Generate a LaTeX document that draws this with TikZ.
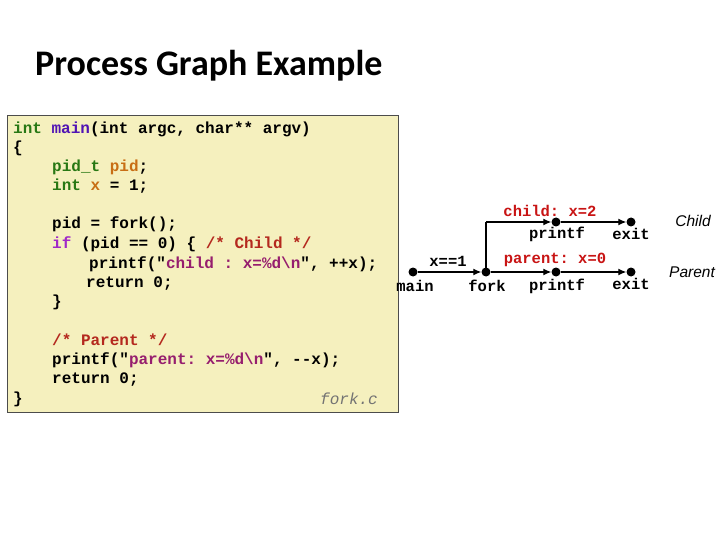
\documentclass[tikz,border=0pt]{standalone}
\usepackage{fontspec}
\setmainfont{Carlito}
\setmonofont{Liberation Mono}
\newfontfamily\arialf{Liberation Sans}
\usetikzlibrary{arrows.meta}
\definecolor{kw}{RGB}{40,120,20}
\definecolor{fn}{RGB}{80,20,180}
\definecolor{var}{RGB}{200,110,20}
\definecolor{ifc}{RGB}{160,40,200}
\definecolor{cmt}{RGB}{180,40,30}
\definecolor{str}{RGB}{150,30,110}
\definecolor{lbl}{RGB}{200,20,20}
\definecolor{boxbg}{RGB}{245,240,190}
\begin{document}
\begin{tikzpicture}[x=1pt,y=-1pt,
  code/.style={anchor=base west,inner sep=0pt,font=\ttfamily\bfseries\fontsize{16}{18}\selectfont},
  gl/.style={inner sep=0pt,font=\ttfamily\bfseries\fontsize{15.5}{18}\selectfont},
  dot/.style={circle,fill=black,inner sep=0pt,minimum size=9pt},
  arr/.style={line width=1.3pt,-{Latex[length=8pt,width=7pt]}},
  side/.style={inner sep=0pt,font=\arialf\itshape\fontsize{15.5}{18}\selectfont}]
\useasboundingbox (0,0) rectangle (720,540);
\node[inner sep=0pt,anchor=base west,font=\bfseries\fontsize{36}{40}\selectfont] (title) at (35,76) {Process Graph Example};
\node[draw=black!70,fill=boxbg,line width=0.6pt,minimum width=391pt,minimum height=297pt,anchor=north west,inner sep=0pt] (box) at (7,115) {};
\node[code] (l1) at (13,134) {\textcolor{kw}{int} \textcolor{fn}{main}(int argc, char** argv)};
\node[code] (l2) at (13,153) {\{};
\node[code] (l3) at (52,172) {\textcolor{kw}{pid\_t} \textcolor{var}{pid};};
\node[code] (l4) at (52,191) {\textcolor{kw}{int} \textcolor{var}{x} = 1;};
\node[code] (l5) at (52,229) {pid = fork();};
\node[code] (l6) at (52,248) {\textcolor{ifc}{if} (pid == 0) \{  \textcolor{cmt}{/* Child */}};
\node[code] (l7) at (89,268) {printf("\textcolor{str}{child : x=\%d\textbackslash n}", ++x);};
\node[code] (l8) at (86,287) {return 0;};
\node[code] (l9) at (52,306) {\}};
\node[code] (l10) at (52,345) {\textcolor{cmt}{/* Parent */}};
\node[code] (l11) at (52,364) {printf("\textcolor{str}{parent: x=\%d\textbackslash n}", --x);};
\node[code] (l12) at (52,383) {return 0;};
\node[code] (l13) at (13,403) {\}};
\node[code,font=\ttfamily\itshape\fontsize{16}{18}\selectfont,text=black!55] (fc) at (320,404) {fork.c};
% graph
\node[dot] (main) at (413,272) {};
\node[dot] (fork) at (486,272) {};
\node[dot] (pp) at (556,272) {};
\node[dot] (pe) at (631,272) {};
\node[dot] (cp) at (556,222) {};
\node[dot] (ce) at (631,222) {};
\coordinate (corner) at (486,222);
\draw[arr] (main) -- (fork);
\draw[arr] (fork) -- (pp);
\draw[arr] (pp) -- (pe);
\draw[line width=1.3pt] (fork.center) -- (corner);
\draw[arr] (corner) -- (cp);
\draw[arr] (cp) -- (ce);
\node[gl] (t1) at (448,261) {x==1};
\node[gl,text=lbl] (t2) at (550,211) {child: x=2};
\node[gl,text=lbl] (t3) at (555,260) {parent: x=0};
\node[gl] (t4) at (557,234) {printf};
\node[gl] (t5) at (631,234) {exit};
\node[gl] (t6) at (415,286) {main};
\node[gl] (t7) at (487,286) {fork};
\node[gl] (t8) at (557,286) {printf};
\node[gl] (t9) at (631,284) {exit};
\node[side] (ch) at (693,221) {Child};
\node[side] (pa) at (692,272) {Parent};
\end{tikzpicture}
\end{document}
